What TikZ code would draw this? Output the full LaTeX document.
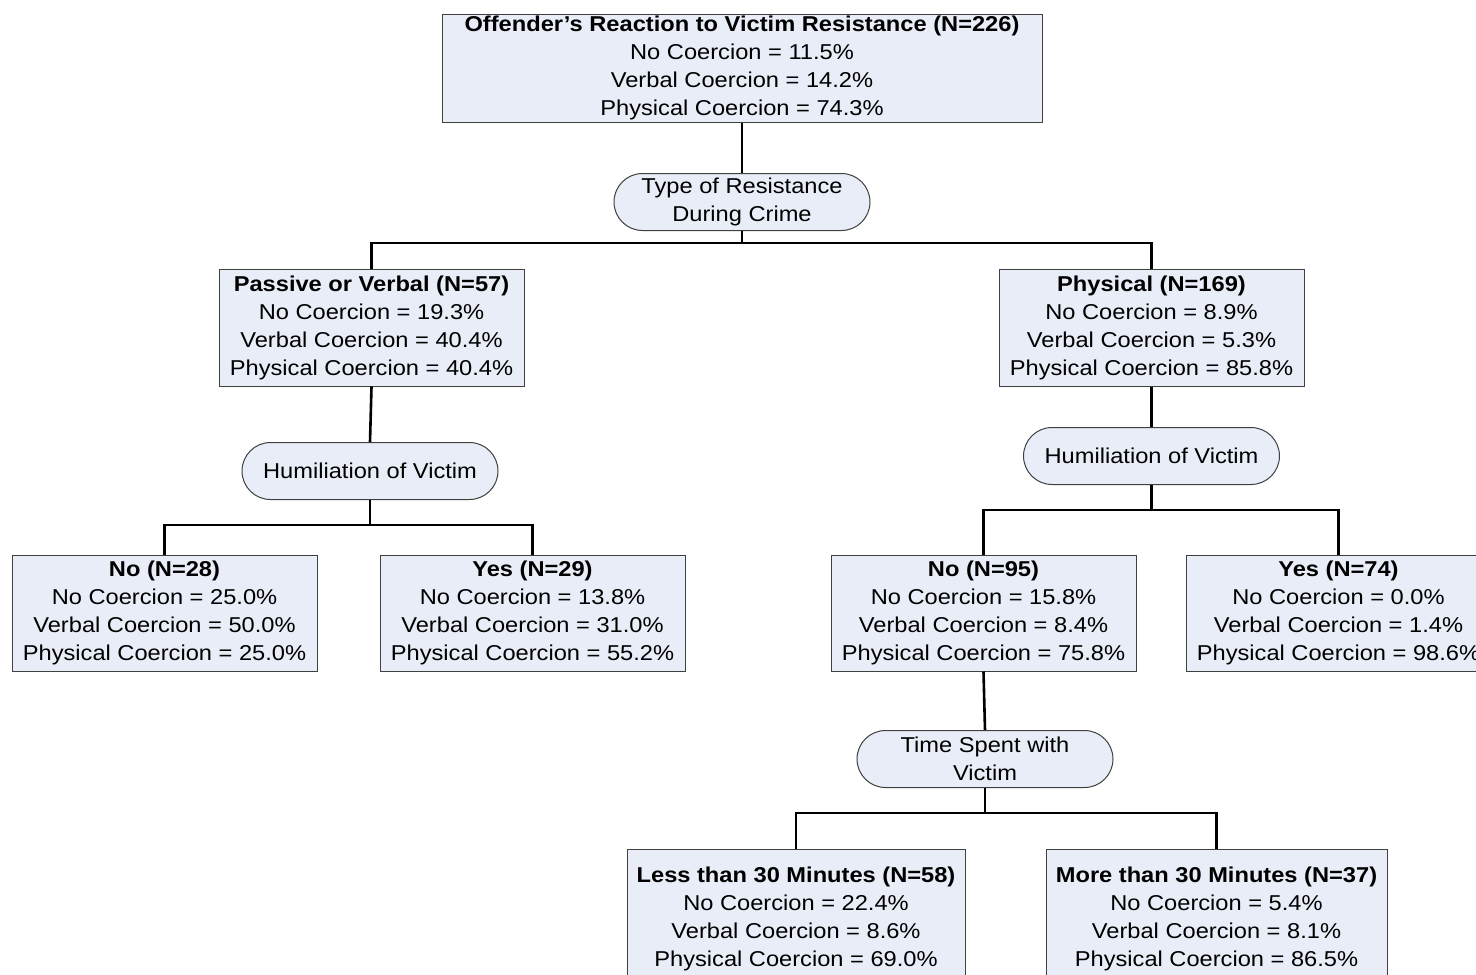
\documentclass[tikz,border=0pt]{standalone}
\usepackage{fontspec}
\setmainfont{Liberation Sans}[FakeStretch=1.1]
\usetikzlibrary{shapes.misc}
\definecolor{boxfill}{HTML}{E8EDF7}
\definecolor{boxline}{HTML}{404040}
\tikzset{
  x=1pt, y=-1pt,
  box/.style={draw=boxline, fill=boxfill, line width=1pt, align=center, inner sep=0pt,
    font=\fontsize{21.5}{28}\selectfont},
  oval/.style={rounded rectangle, draw=boxline, fill=boxfill, line width=1pt, align=center, inner sep=0pt,
    minimum width=256pt, minimum height=57pt, font=\fontsize{21.5}{28}\selectfont},
  conn/.style={line width=2.6pt, black}
}
\begin{document}
\begin{tikzpicture}
\useasboundingbox (0,0) rectangle (1476,975);
\clip (0,0) rectangle (1476,975);
\fill[white] (0,0) rectangle (1476,975);

\node[box, minimum width=600pt, minimum height=108pt] (root) at (742,68)
  {\textbf{Offender’s Reaction to Victim Resistance (N=226)}\\No Coercion = 11.5\%\\Verbal Coercion = 14.2\%\\Physical Coercion = 74.3\%};

\node[oval] (q1) at (742,202) {Type of Resistance\\During Crime};

\node[box, minimum width=305pt, minimum height=117pt] (pv) at (371.5,327.5)
  {\textbf{Passive or Verbal (N=57)}\\No Coercion = 19.3\%\\Verbal Coercion = 40.4\%\\Physical Coercion = 40.4\%};
\node[box, minimum width=305pt, minimum height=117pt] (ph) at (1151.5,327.5)
  {\textbf{Physical (N=169)}\\No Coercion = 8.9\%\\Verbal Coercion = 5.3\%\\Physical Coercion = 85.8\%};

\node[oval] (q2) at (370,471) {Humiliation of Victim};
\node[oval] (q3) at (1151.5,456) {Humiliation of Victim};

\node[box, minimum width=305pt, minimum height=116pt] (n28) at (164.5,613)
  {\textbf{No (N=28)}\\No Coercion = 25.0\%\\Verbal Coercion = 50.0\%\\Physical Coercion = 25.0\%};
\node[box, minimum width=305pt, minimum height=116pt] (y29) at (532.5,613)
  {\textbf{Yes (N=29)}\\No Coercion = 13.8\%\\Verbal Coercion = 31.0\%\\Physical Coercion = 55.2\%};
\node[box, minimum width=305pt, minimum height=116pt] (n95) at (983.5,613)
  {\textbf{No (N=95)}\\No Coercion = 15.8\%\\Verbal Coercion = 8.4\%\\Physical Coercion = 75.8\%};
\node[box, minimum width=305pt, minimum height=116pt] (y74) at (1338.5,613)
  {\textbf{Yes (N=74)}\\No Coercion = 0.0\%\\Verbal Coercion = 1.4\%\\Physical Coercion = 98.6\%};

\node[oval] (q4) at (985,759) {Time Spent with\\Victim};

\node[box, minimum width=338pt, minimum height=140pt] (lt) at (796,919)
  {\textbf{Less than 30 Minutes (N=58)}\\No Coercion = 22.4\%\\Verbal Coercion = 8.6\%\\Physical Coercion = 69.0\%};
\node[box, minimum width=341pt, minimum height=140pt] (mt) at (1216.5,919)
  {\textbf{More than 30 Minutes (N=37)}\\No Coercion = 5.4\%\\Verbal Coercion = 8.1\%\\Physical Coercion = 86.5\%};

% connectors
\draw[conn] (root.south) -- (q1.north);
\draw[conn] (q1.south) -- ++(0,12) coordinate (j1);
\draw[conn] (j1) -| (pv.north);
\draw[conn] (j1) -| (ph.north);

\draw[conn] (pv.south) -- (q2.north);
\draw[conn] (q2.south) -- ++(0,25) coordinate (j2);
\draw[conn] (j2) -| (n28.north);
\draw[conn] (j2) -| (y29.north);

\draw[conn] (ph.south) -- (q3.north);
\draw[conn] (q3.south) -- ++(0,25) coordinate (j3);
\draw[conn] (j3) -| (n95.north);
\draw[conn] (j3) -| (y74.north);

\draw[conn] (n95.south) -- (q4.north);
\draw[conn] (q4.south) -- ++(0,25) coordinate (j4);
\draw[conn] (j4) -| (lt.north);
\draw[conn] (j4) -| (mt.north);
\end{tikzpicture}
\end{document}
